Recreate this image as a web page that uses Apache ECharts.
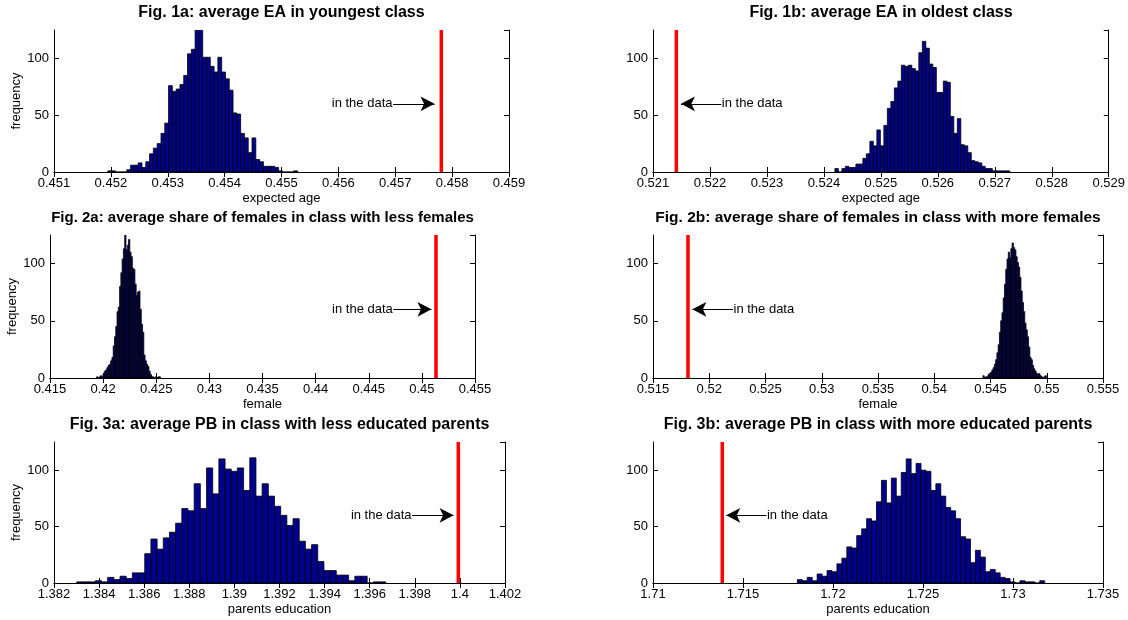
<!DOCTYPE html>
<html><head><meta charset="utf-8">
<script src="https://cdn.jsdelivr.net/npm/echarts@6/dist/echarts.min.js"></script>
<style>html,body{margin:0;padding:0;background:#fff}#c{width:1128px;height:620px}</style>
</head><body><div id="c"></div><script>
// ---- data ----
var titles = [
  'Fig. 1a: average EA in youngest class',
  'Fig. 1b: average EA in oldest class',
  'Fig. 2a: average share of females in class with less females',
  'Fig. 2b: average share of females in class with more females',
  'Fig. 3a: average PB in class with less educated parents',
  'Fig. 3b: average PB in class with more educated parents'
];
var xNames = ['expected age', 'expected age', 'female', 'female', 'parents education', 'parents education'];
var xMins = [0.451, 0.521, 0.415, 0.515, 1.382, 1.71];
var xMaxs = [0.459, 0.529, 0.455, 0.555, 1.402, 1.735];
var xSteps = [0.001, 0.001, 0.005, 0.005, 0.002, 0.005];
var yTicks = [0, 50, 100];

// histogram bins: first bin lower edge and bin width for each panel
var binLo = [0.451947, 0.524193, 0.41939, 0.54433, 1.38301, 1.71802];
var binW = [0.0000667, 0.0000614, 0.00012, 0.0001126, 0.000274, 0.0002748];

var counts1a = [1,1,0,0,0,2,6,6,8,4, 9,16,21,25,34,43,76,71,73,77, 85,104,108,126,126,101,101,93,88,101, 88,82,72,52,51,34,30,17,30,11, 9,5,5,5,4,1,0,0,0,1];
var counts1b = [3,0,3,5,4,4,7,7,12,16, 27,23,37,23,41,56,62,74,80,94, 93,94,91,89,105,115,109,95,92,70, 70,80,79,49,34,47,24,23,17,10, 9,8,5,3,3,1,1,1,1,1];
var counts2a = [1,0,1,2,1,4,6,7,9,11, 12,15,18,28,36,45,58,62,80,92, 104,113,126,112,116,121,110,106,96,95, 82,72,75,76,60,47,40,20,15,12, 10,6,3,1,1,0,1,0,1,1];
var counts2b = [2,0,1,1,3,4,5,7,9,12, 16,22,29,40,50,57,70,82,95,104, 110,105,113,118,114,112,106,101,97,88, 76,66,58,48,42,36,27,18,16,11, 8,6,4,3,4,2,1,0,1,2];
var counts3a = [1,1,1,2,1,5,3,6,4,9, 9,26,39,30,40,45,53,66,64,88, 66,102,79,110,101,99,102,82,111,77, 88,77,68,60,51,57,37,30,34,19, 11,11,7,7,2,6,6,0,1,1];
var counts3b = [3,2,5,2,8,6,11,10,17,22, 32,31,42,48,57,55,72,91,71,93, 77,98,110,97,106,100,99,82,88,77, 67,64,57,41,39,18,29,23,10,12, 9,5,4,1,0,2,1,1,0,2];
var allCounts = [counts1a, counts1b, counts2a, counts2b, counts3a, counts3b];

// value observed "in the data" (red line) and annotation arrow (tail -> tip) at y = 60
var dataValue = [0.45781, 0.52141, 0.45133, 0.51811, 1.39993, 1.71385];
var arrowTail = [0.45696, 0.5222, 0.44731, 0.52211, 1.39788, 1.7163];
var arrowTip  = [0.45769, 0.52149, 0.4509, 0.5185, 1.39972, 1.71407];
var arrowY = 60;
var noteText = 'in the data';

// ---- layout ----
var grids = [
  {left: 54, top: 30, width: 455, height: 142},
  {left: 653, top: 30, width: 456, height: 142},
  {left: 50, top: 235, width: 425, height: 143},
  {left: 653, top: 235, width: 450, height: 143},
  {left: 54, top: 442, width: 451, height: 141},
  {left: 653, top: 442, width: 450, height: 141}
];
var titleY = [13, 13, 218, 218, 425, 425];
var titleSize = [16, 16, 15, 15.5, 16, 16];
var FONT = '"Liberation Sans", Arial, Helvetica, sans-serif';

var xAxes = [], yAxes = [], series = [], graphics = [];
for (var i = 0; i < 6; i++) {
  var g = grids[i];
  var isLeft = (i % 2 === 0);
  xAxes.push({
    type: 'value', gridIndex: i, min: xMins[i], max: xMaxs[i], interval: xSteps[i],
    position: 'bottom',
    axisLine: {show: true, lineStyle: {color: '#000', width: 1}},
    axisTick: {show: true, inside: true, length: 5, lineStyle: {color: '#000'}},
    axisLabel: {show: true, color: '#000', fontSize: 13, fontFamily: FONT, margin: 5, hideOverlap: false},
    splitLine: {show: false},
    name: xNames[i], nameLocation: 'middle', nameGap: 20,
    nameTextStyle: {color: '#000', fontSize: 13, fontFamily: FONT}
  });
  xAxes.push({
    type: 'value', gridIndex: i, min: xMins[i], max: xMaxs[i], interval: xSteps[i],
    position: 'top',
    axisLine: {show: true, lineStyle: {color: '#000', width: 1}},
    axisTick: {show: true, inside: true, length: 5, lineStyle: {color: '#000'}},
    axisLabel: {show: false}, splitLine: {show: false}
  });
  yAxes.push({
    type: 'value', gridIndex: i, min: 0, max: 125, interval: 50,
    position: 'left',
    axisLine: {show: true, lineStyle: {color: '#000', width: 1}},
    axisTick: {show: true, inside: true, length: 5, lineStyle: {color: '#000'}},
    axisLabel: {show: true, color: '#000', fontSize: 13, fontFamily: FONT, margin: 5, showMaxLabel: false,
      formatter: function (v) { return yTicks.indexOf(v) >= 0 ? String(v) : ''; }},
    splitLine: {show: false},
    name: isLeft ? 'frequency' : '', nameLocation: 'middle', nameGap: 30, nameRotate: 90,
    nameTextStyle: {color: '#000', fontSize: 13, fontFamily: FONT}
  });
  yAxes.push({
    type: 'value', gridIndex: i, min: 0, max: 125, interval: 50,
    position: 'right',
    axisLine: {show: true, lineStyle: {color: '#000', width: 1}},
    axisTick: {show: true, inside: true, length: 5, lineStyle: {color: '#000'}},
    axisLabel: {show: false}, splitLine: {show: false}
  });

  var binData = [];
  var c = allCounts[i];
  for (var k = 0; k < c.length; k++) {
    binData.push([binLo[i] + k * binW[i], binLo[i] + (k + 1) * binW[i], c[k]]);
  }
  series.push({
    type: 'custom', xAxisIndex: 2 * i, yAxisIndex: 2 * i, clip: true, silent: true,
    data: binData, encode: {x: [0, 1], y: 2},
    renderItem: function (params, api) {
      var p0 = api.coord([api.value(0), 0]);
      var p1 = api.coord([api.value(1), api.value(2)]);
      return {
        type: 'rect',
        shape: {x: p0[0], y: p1[1], width: p1[0] - p0[0], height: p0[1] - p1[1]},
        style: {fill: '#00008F', stroke: '#000', lineWidth: 0.8}
      };
    }
  });
  series.push({
    type: 'line', xAxisIndex: 2 * i, yAxisIndex: 2 * i, silent: true, symbol: 'none',
    data: [[dataValue[i], 0], [dataValue[i], 125]],
    lineStyle: {color: '#FF0000', width: 3.5}, z: 5
  });
  series.push({
    type: 'line', xAxisIndex: 2 * i, yAxisIndex: 2 * i, silent: true, symbol: 'none',
    data: [[arrowTail[i], arrowY], [arrowTip[i], arrowY]],
    lineStyle: {opacity: 0},
    markLine: {
      silent: true, symbol: ['none', 'arrow'], symbolSize: [11, 14],
      lineStyle: {color: '#000', width: 1.2, type: 'solid'},
      label: {show: false}, animation: false,
      data: [[{coord: [arrowTail[i], arrowY]}, {coord: [arrowTip[i], arrowY]}]]
    }, z: 6
  });
  series.push({
    type: 'scatter', xAxisIndex: 2 * i, yAxisIndex: 2 * i, silent: true,
    data: [[arrowTail[i], arrowY]], symbolSize: 1, itemStyle: {color: 'rgba(0,0,0,0)'},
    label: {show: true, formatter: noteText, position: isLeft ? 'left' : 'right', distance: 0,
      color: '#000', fontSize: 13, fontFamily: FONT, opacity: 1}, z: 6
  });
  graphics.push({
    type: 'text', x: g.left + g.width / 2, y: titleY[i],
    style: {text: titles[i], fill: '#000', font: 'bold ' + titleSize[i] + 'px ' + FONT,
      align: 'center', verticalAlign: 'middle', textAlign: 'center', textVerticalAlign: 'middle'}
  });
}

var chart = echarts.init(document.getElementById('c'), null, {renderer: 'canvas'});
chart.setOption({
  animation: false,
  backgroundColor: '#fff',
  grid: grids.map(function (g) { return {left: g.left, top: g.top, width: g.width, height: g.height, containLabel: false}; }),
  xAxis: xAxes,
  yAxis: yAxes,
  series: series,
  graphic: graphics
});
</script></body></html>
